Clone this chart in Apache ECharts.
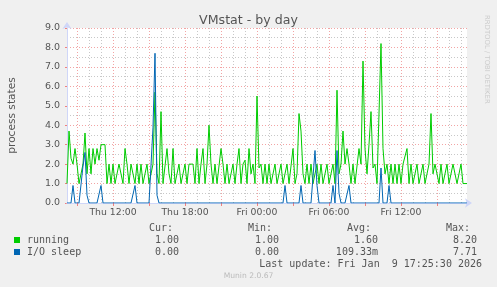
<!DOCTYPE html>
<html><head><meta charset="utf-8">
<script src="https://cdn.jsdelivr.net/npm/echarts@6/dist/echarts.min.js"></script>
<style>html,body{margin:0;padding:0;background:#F0F0F0}#c{width:497px;height:287px}</style>
</head><body><div id="c"></div>
<script>
// time axis: Thu 08:10 -> Fri 17:30, 10-minute samples
const START_MIN = 8 * 60 + 10;
const STEP_MIN = 10;

const running = [
  1, 3.7, 2.3, 2.0, 2.8, 2.0, 1, 1, 2, 3.6,
  1.5, 2.8, 1.5, 2.8, 2.0, 2.8, 2.2, 3.0, 3.0, 3.0,
  1, 2, 1, 2, 1, 1, 2, 2, 1, 2.8,
  2, 1, 2, 2, 1, 2, 1, 2, 1, 1,
  2, 1, 1, 2, 5.7, 1.5, 1, 4.7, 1, 1,
  2.8, 1.5, 1, 2.8, 1, 1, 2, 1, 1, 2,
  1, 2, 2, 2, 1, 2.8, 1, 2, 2.8, 1,
  2, 4.0, 2, 1, 2, 1, 1, 2.8, 2, 1,
  2, 1, 1, 2, 1, 2, 2.8, 1, 2, 2.2,
  1, 2.8, 1.5, 2, 1, 5.5, 1.8, 2, 1, 2,
  1, 2, 1, 1, 2, 1, 1, 2, 1, 1,
  2, 1, 1, 2.8, 1, 1.5, 4.6, 3.7, 1.5, 1,
  2, 1, 2, 1, 1, 2, 1, 2, 1, 1,
  2, 1, 1, 2, 1, 5.8, 1.5, 2, 3.7, 2,
  2.8, 2, 1, 2, 1, 1, 2.8, 2, 7.3, 2.8,
  1.5, 3.0, 4.7, 1.8, 2, 1, 1, 8.2, 2.8, 1.5,
  2, 1, 2, 1, 2, 1, 2, 1, 2, 2,
  2.8, 1, 2, 1, 1, 2, 1, 1, 2, 1,
  1, 2, 4.6, 1.5, 2, 2, 1, 2, 1, 1,
  2, 1, 1, 2, 2, 1, 1, 2, 1, 1,
  1
];

const ioSleep = [
  0, 0, 0, 0.9, 0, 0, 0, 0, 1.9, 2.6,
  0.4, 0, 0, 0, 0, 0, 0, 0.9, 0, 0,
  0, 0, 0, 0, 0, 0, 0, 0, 0, 0,
  0, 0, 0, 0, 0.9, 0, 0, 0, 0, 0,
  0, 0, 0, 3.9, 7.7, 0.4, 0, 0, 0, 0,
  0, 0, 0, 0, 0, 0, 0, 0, 0, 0,
  0, 0, 0, 0, 0, 0, 0, 0, 0, 0,
  0, 0, 0, 0, 0, 0, 0, 0, 0, 0,
  0, 0, 0, 0, 0, 0, 0, 0, 0, 0,
  0, 0, 0, 0, 0, 0, 0, 0, 0, 0,
  0, 0, 0, 0, 0, 0, 0, 0, 0, 0.9,
  0, 0, 0, 0, 0, 0, 0, 0.9, 0, 0,
  0, 0, 0, 0, 2.7, 0.9, 0, 0, 0, 0,
  0, 0, 0, 0.9, 0, 2.7, 0.5, 0, 0, 0,
  0, 0.9, 0, 0, 0, 0, 0, 0, 0, 0,
  0, 0, 0, 0, 0, 0, 0, 1.8, 0, 0,
  0, 0.9, 0, 0, 0, 0, 0, 0, 0, 0,
  0, 0, 0, 0, 0, 0, 0, 0, 0, 0,
  0, 0, 0, 0, 0, 0, 0, 0, 0, 0,
  0, 0, 0, 0, 0, 0, 0, 0, 0, 0,
  0
];

const seriesNames = ['running', 'I/O sleep'];
const seriesColors = ['#00CC00', '#0066B3'];
const statHeaders = ['Cur:', 'Min:', 'Avg:', 'Max:'];
const runningStats = ['1.00', '1.00', '1.60', '8.20'];
const ioSleepStats = ['0.00', '0.00', '109.33m', '7.71'];
const lastUpdate = 'Last update: Fri Jan  9 17:25:30 2026';

const categories = running.map((_, i) => {
  const m = START_MIN + i * STEP_MIN;
  const day = m < 1440 ? 'Thu' : 'Fri';
  const mm = m % 1440;
  return day + ' ' + String(Math.floor(mm / 60)).padStart(2, '0') + ':' + String(mm % 60).padStart(2, '0');
});
function hm(v) { const t = v.split(' ')[1].split(':'); return { h: +t[0], m: +t[1] }; }
const every = n => (i, v) => { const t = hm(v); return t.m === 0 && t.h % n === 0; };

const FONT = 'DejaVu Sans';
const MONO = 'DejaVu Sans Mono';
const TXT = '#555';
const MAJOR = '#F2A4A4';
const MINOR = '#C8C8C8';

const chart = echarts.init(document.getElementById('c'), null, { renderer: 'canvas' });

const statX = [179, 279, 378, 477];
const headX = [173, 272, 371, 470];
const graphics = [];
statHeaders.forEach((h, k) => graphics.push({ type: 'text', x: headX[k], y: 228.5,
  style: { text: h, font: '10px "' + MONO + '"', fill: TXT, align: 'right', verticalAlign: 'middle' } }));
[runningStats, ioSleepStats].forEach((row, r) => {
  const y = 240.5 + r * 12;
  graphics.push({ type: 'rect', shape: { x: 14, y: y - 3.5, width: 6, height: 6 }, style: { fill: seriesColors[r] } });
  graphics.push({ type: 'text', x: 27, y: y, style: { text: seriesNames[r], font: '10px "' + MONO + '"', fill: TXT, align: 'left', verticalAlign: 'middle' } });
  row.forEach((s, k) => graphics.push({ type: 'text', x: statX[k], y: y,
    style: { text: s, font: '10px "' + MONO + '"', fill: TXT, align: 'right', verticalAlign: 'middle' } }));
});
graphics.push({ type: 'text', x: 482, y: 264, style: { text: lastUpdate, font: '10px "' + MONO + '"', fill: TXT, align: 'right', verticalAlign: 'middle' } });
graphics.push({ type: 'text', x: 248.5, y: 276, style: { text: 'Munin 2.0.67', font: '7.6px "' + FONT + '"', fill: '#BBBBBB', align: 'center', verticalAlign: 'middle' } });
graphics.push({ type: 'text', x: 487, y: 15, rotation: -Math.PI / 2,
  style: { text: 'RRDTOOL / TOBI OETIKER', font: '6.9px "' + FONT + '"', fill: '#CCCCCC', align: 'left', verticalAlign: 'middle' } });

chart.setOption({
  animation: false,
  backgroundColor: '#F0F0F0',
  title: { text: 'VMstat - by day', left: 'center', top: 9,
    textStyle: { fontSize: 12.6, fontWeight: 'normal', color: TXT, fontFamily: FONT } },
  grid: { left: 67, top: 28, width: 400, height: 175, show: true, backgroundColor: '#FFFFFF', borderWidth: 0,
    containLabel: false, outerBoundsMode: 'none' },
  xAxis: [
    { type: 'category', data: categories, boundaryGap: false, z: 3,
      axisLine: { lineStyle: { color: '#CFD6F8' }, symbol: ['none', 'arrow'], symbolSize: [7, 7], symbolOffset: [0, 5] },
      axisTick: { show: true, interval: every(3), length: 3, lineStyle: { color: '#F08080' } },
      axisLabel: { interval: every(6), color: TXT, fontFamily: FONT, fontSize: 9.3, margin: 5.5, hideOverlap: false },
      splitLine: { show: true, interval: every(3), lineStyle: { color: MAJOR, type: [1, 2], width: 1 } } },
    { type: 'category', data: categories, boundaryGap: false, z: 1,
      axisLine: { show: false }, axisTick: { show: false }, axisLabel: { show: false },
      splitLine: { show: true, interval: every(1), lineStyle: { color: MINOR, type: [1, 2], width: 1 } } }
  ],
  yAxis: {
    type: 'value', min: 0, max: 9, interval: 1,
    name: 'process states', nameLocation: 'middle', nameGap: 49,
    nameTextStyle: { color: TXT, fontFamily: FONT, fontSize: 10.6 },
    axisLine: { show: true, lineStyle: { color: '#CFD6F8' }, symbol: ['none', 'arrow'], symbolSize: [7, 7], symbolOffset: [0, 6] },
    axisTick: { show: true, length: 2, lineStyle: { color: '#F08080' } },
    axisLabel: { formatter: v => v.toFixed(1), color: TXT, fontFamily: FONT, fontSize: 9.5, margin: 7 },
    splitLine: { show: true, lineStyle: { color: MAJOR, type: [1, 2], width: 1 } },
    minorTick: { show: false, splitNumber: 2 },
    minorSplitLine: { show: true, lineStyle: { color: MINOR, type: [1, 2], width: 1 } }
  },
  series: [
    { name: seriesNames[0], type: 'line', data: running, xAxisIndex: 0, showSymbol: false, symbol: 'none',
      lineStyle: { color: seriesColors[0], width: 1 }, itemStyle: { color: seriesColors[0] }, z: 4 },
    { name: seriesNames[1], type: 'line', data: ioSleep, xAxisIndex: 0, showSymbol: false, symbol: 'none',
      lineStyle: { color: seriesColors[1], width: 1 }, itemStyle: { color: seriesColors[1] }, z: 5 }
  ],
  graphic: graphics
});
</script></body></html>
